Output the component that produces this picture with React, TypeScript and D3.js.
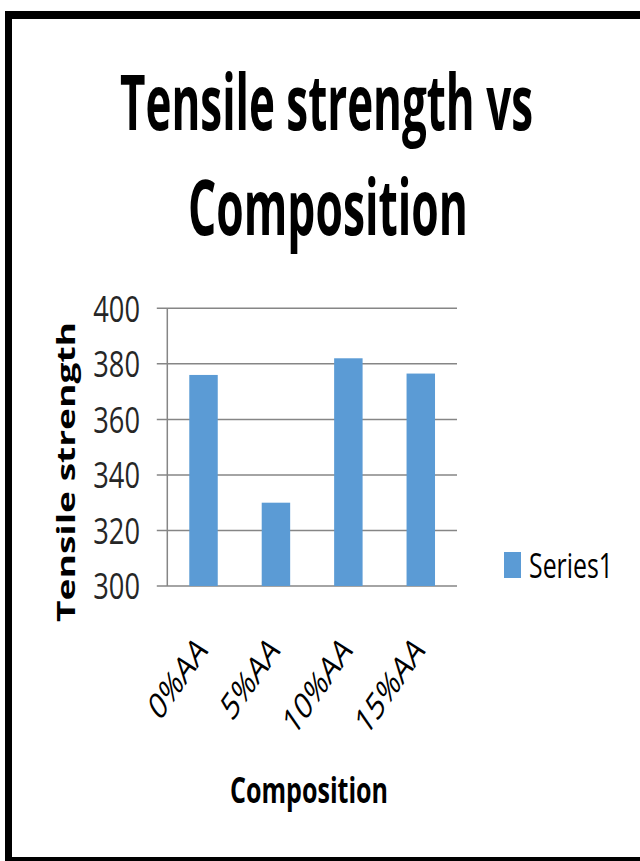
import React, { useLayoutEffect, useRef, useState } from "react";
import * as d3 from "d3";

const categories = ["0%AA", "5%AA", "10%AA", "15%AA"];
const seriesValues = [376, 330, 382, 376.5];
const yTicks = [300, 320, 340, 360, 380, 400];
const seriesName = "Series1";
const titleLines = ["Tensile strength vs", "Composition"];
const yTitle = "Tensile strength";
const xTitle = "Composition";

const W = 640;
const H = 861;
const FONT = "'Open Sans', 'Noto Sans', sans-serif";
const BAR = "#5B9BD5";
const GRID = "#868686";
const CAP = 0.714;
const BASE = 20;

type FitProps = {
  x: number;
  y: number;
  width: number;
  cap: number;
  anchor?: "start" | "middle" | "end";
  weight?: number | string;
  rotate?: number;
  fill?: string;
  children: string;
};

function FitText({ x, y, width, cap, anchor = "start", weight = "normal", rotate = 0, fill = "#000", children }: FitProps) {
  const ref = useRef<SVGTextElement>(null);
  const [sx, setSx] = useState(1);
  useLayoutEffect(() => {
    if (ref.current) {
      const L = ref.current.getComputedTextLength();
      if (L > 0) setSx(width / L);
    }
  }, [width, children]);
  const sy = cap / (CAP * BASE);
  return (
    <g transform={`translate(${x},${y}) rotate(${rotate}) scale(${sx},${sy})`}>
      <text ref={ref} x={0} y={0} textAnchor={anchor} fontFamily={FONT} fontWeight={weight} fontSize={BASE} fill={fill}>
        {children}
      </text>
    </g>
  );
}

export default function App() {
  const left = 167.3;
  const right = 457;
  const top = 308.3;
  const bottom = 586;
  const y = d3.scaleLinear().domain([300, 400]).range([bottom, top]);
  const x = d3
    .scaleBand<string>()
    .domain(categories)
    .range([left, right])
    .paddingInner(0.607)
    .paddingOuter(0.3035);
  const S = 1.44;
  return (
    <svg width={W} height={H} style={{ position: "absolute", left: 0, top: 0, background: "#fff" }}>
      <rect x={0} y={0} width={W} height={H} fill="#fff" />
      {/* frame */}
      <rect x={5} y={11} width={W - 5} height={8} fill="#000" />
      <rect x={5} y={11} width={7} height={H - 11} fill="#000" />
      <rect x={5} y={857} width={W - 5} height={4} fill="#000" />

      {/* title */}
      <FitText x={326.5} y={130} width={413} cap={55} anchor="middle" weight={700}>
        {titleLines[0]}
      </FitText>
      <FitText x={328} y={235} width={280} cap={55} anchor="middle" weight={700}>
        {titleLines[1]}
      </FitText>

      {/* gridlines + ticks */}
      {yTicks.map((t) => (
        <g key={t}>
          <line x1={left - 10.5} x2={right} y1={y(t)} y2={y(t)} stroke={GRID} strokeWidth={1.5} />
          <FitText x={140} y={y(t) + 13.3} width={46.7} cap={26.5} anchor="end" fill="#262626">
            {String(t)}
          </FitText>
        </g>
      ))}
      <line x1={left} x2={left} y1={top} y2={bottom} stroke={GRID} strokeWidth={1.5} />

      {/* bars */}
      {categories.map((c, i) => (
        <rect
          key={c}
          x={x(c)}
          y={y(seriesValues[i])}
          width={x.bandwidth()}
          height={bottom - y(seriesValues[i])}
          fill={BAR}
        />
      ))}

      {/* x labels */}
      {categories.map((c) => (
        <g key={c} transform={`translate(${(x(c) as number) + x.bandwidth() / 2 + 5},652) scale(1,${S}) rotate(-45)`}>
          <text x={0} y={0} textAnchor="end" fontFamily={FONT} fontSize={26} fill="#000">
            {c}
          </text>
        </g>
      ))}

      {/* axis titles */}
      <g transform="translate(74.5,472) rotate(-90)">
        <FitText x={0} y={0} width={300} cap={17.5} anchor="middle" weight={700}>
          {yTitle}
        </FitText>
      </g>
      <FitText x={309} y={803} width={158} cap={25} anchor="middle" weight={700}>
        {xTitle}
      </FitText>

      {/* legend */}
      <rect x={504} y={552} width={17} height={26} fill={BAR} />
      <FitText x={529} y={578} width={84} cap={25} anchor="start">
        {seriesName}
      </FitText>
    </svg>
  );
}
